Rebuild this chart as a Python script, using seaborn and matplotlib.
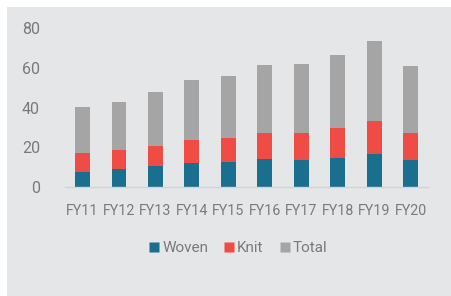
import pandas as pd
import numpy as np
import matplotlib.pyplot as plt
import seaborn as sns
from matplotlib.patches import Rectangle
from matplotlib.lines import Line2D

# data (USD bn)
years = ['FY11', 'FY12', 'FY13', 'FY14', 'FY15', 'FY16', 'FY17', 'FY18', 'FY19', 'FY20']
woven = [7.7, 9.0, 10.7, 11.9, 12.5, 14.1, 13.7, 14.7, 16.7, 13.6]
knit = [9.5, 9.4, 10.1, 11.9, 12.3, 13.2, 13.6, 15.1, 16.6, 13.5]
total = [23.0, 24.3, 26.9, 30.0, 31.0, 34.2, 34.7, 36.5, 40.4, 33.7]

series = ['Woven', 'Knit', 'Total']
colors = {'Woven': '#1a6e8e', 'Knit': '#f04c46', 'Total': '#a5a5a5'}

df = pd.DataFrame({'year': years, 'Woven': woven, 'Knit': knit, 'Total': total})
df['Knit_top'] = df['Woven'] + df['Knit']
df['Total_top'] = df['Knit_top'] + df['Total']

bg = '#e5e6e8'
txt = '#7a7a7a'
sns.set_style('white')
plt.rcParams['font.family'] = ['Roboto', 'DejaVu Sans']

fig = plt.figure(figsize=(4.51, 2.96), dpi=100, facecolor='white')
fig.patches.append(Rectangle((7 / 451, 0), 444 / 451, 289 / 296, transform=fig.transFigure,
                             facecolor=bg, edgecolor='none', zorder=-5))
ax = fig.add_axes([65 / 451, 109 / 296, 364 / 451, 159 / 296])
ax.set_facecolor(bg)

# stacked bars: draw cumulative tops back to front
w = 0.41
sns.barplot(data=df, x='year', y='Total_top', color=colors['Total'], width=w,
            saturation=1, ax=ax, linewidth=0)
sns.barplot(data=df, x='year', y='Knit_top', color=colors['Knit'], width=w,
            saturation=1, ax=ax, linewidth=0)
sns.barplot(data=df, x='year', y='Woven', color=colors['Woven'], width=w,
            saturation=1, ax=ax, linewidth=0)

ax.set_xlim(-0.48, 9.5)
ax.set_ylim(0, 80)
ax.set_yticks([0, 20, 40, 60, 80])
ax.set_xlabel('')
ax.set_ylabel('')
sns.despine(ax=ax, left=True, top=True, right=True)
ax.spines['bottom'].set_color('#d2d3d5')
ax.spines['bottom'].set_linewidth(1)
ax.tick_params(axis='both', length=0, labelcolor=txt)
ax.tick_params(axis='y', pad=18, labelsize=11.5)
ax.tick_params(axis='x', pad=12, labelsize=10.3)

handles = [Line2D([], [], marker='s', linestyle='none', markersize=7.5,
                  markerfacecolor=colors[s], markeredgecolor='none') for s in series]
fig.legend(handles, series, loc='center', bbox_to_anchor=(237 / 451, 48 / 296),
           ncol=3, frameon=False, fontsize=11, labelcolor=txt,
           handletextpad=0.0, columnspacing=0.9, handlelength=1.0)

plt.savefig('out.png', dpi=100, facecolor='white')
plt.close()
